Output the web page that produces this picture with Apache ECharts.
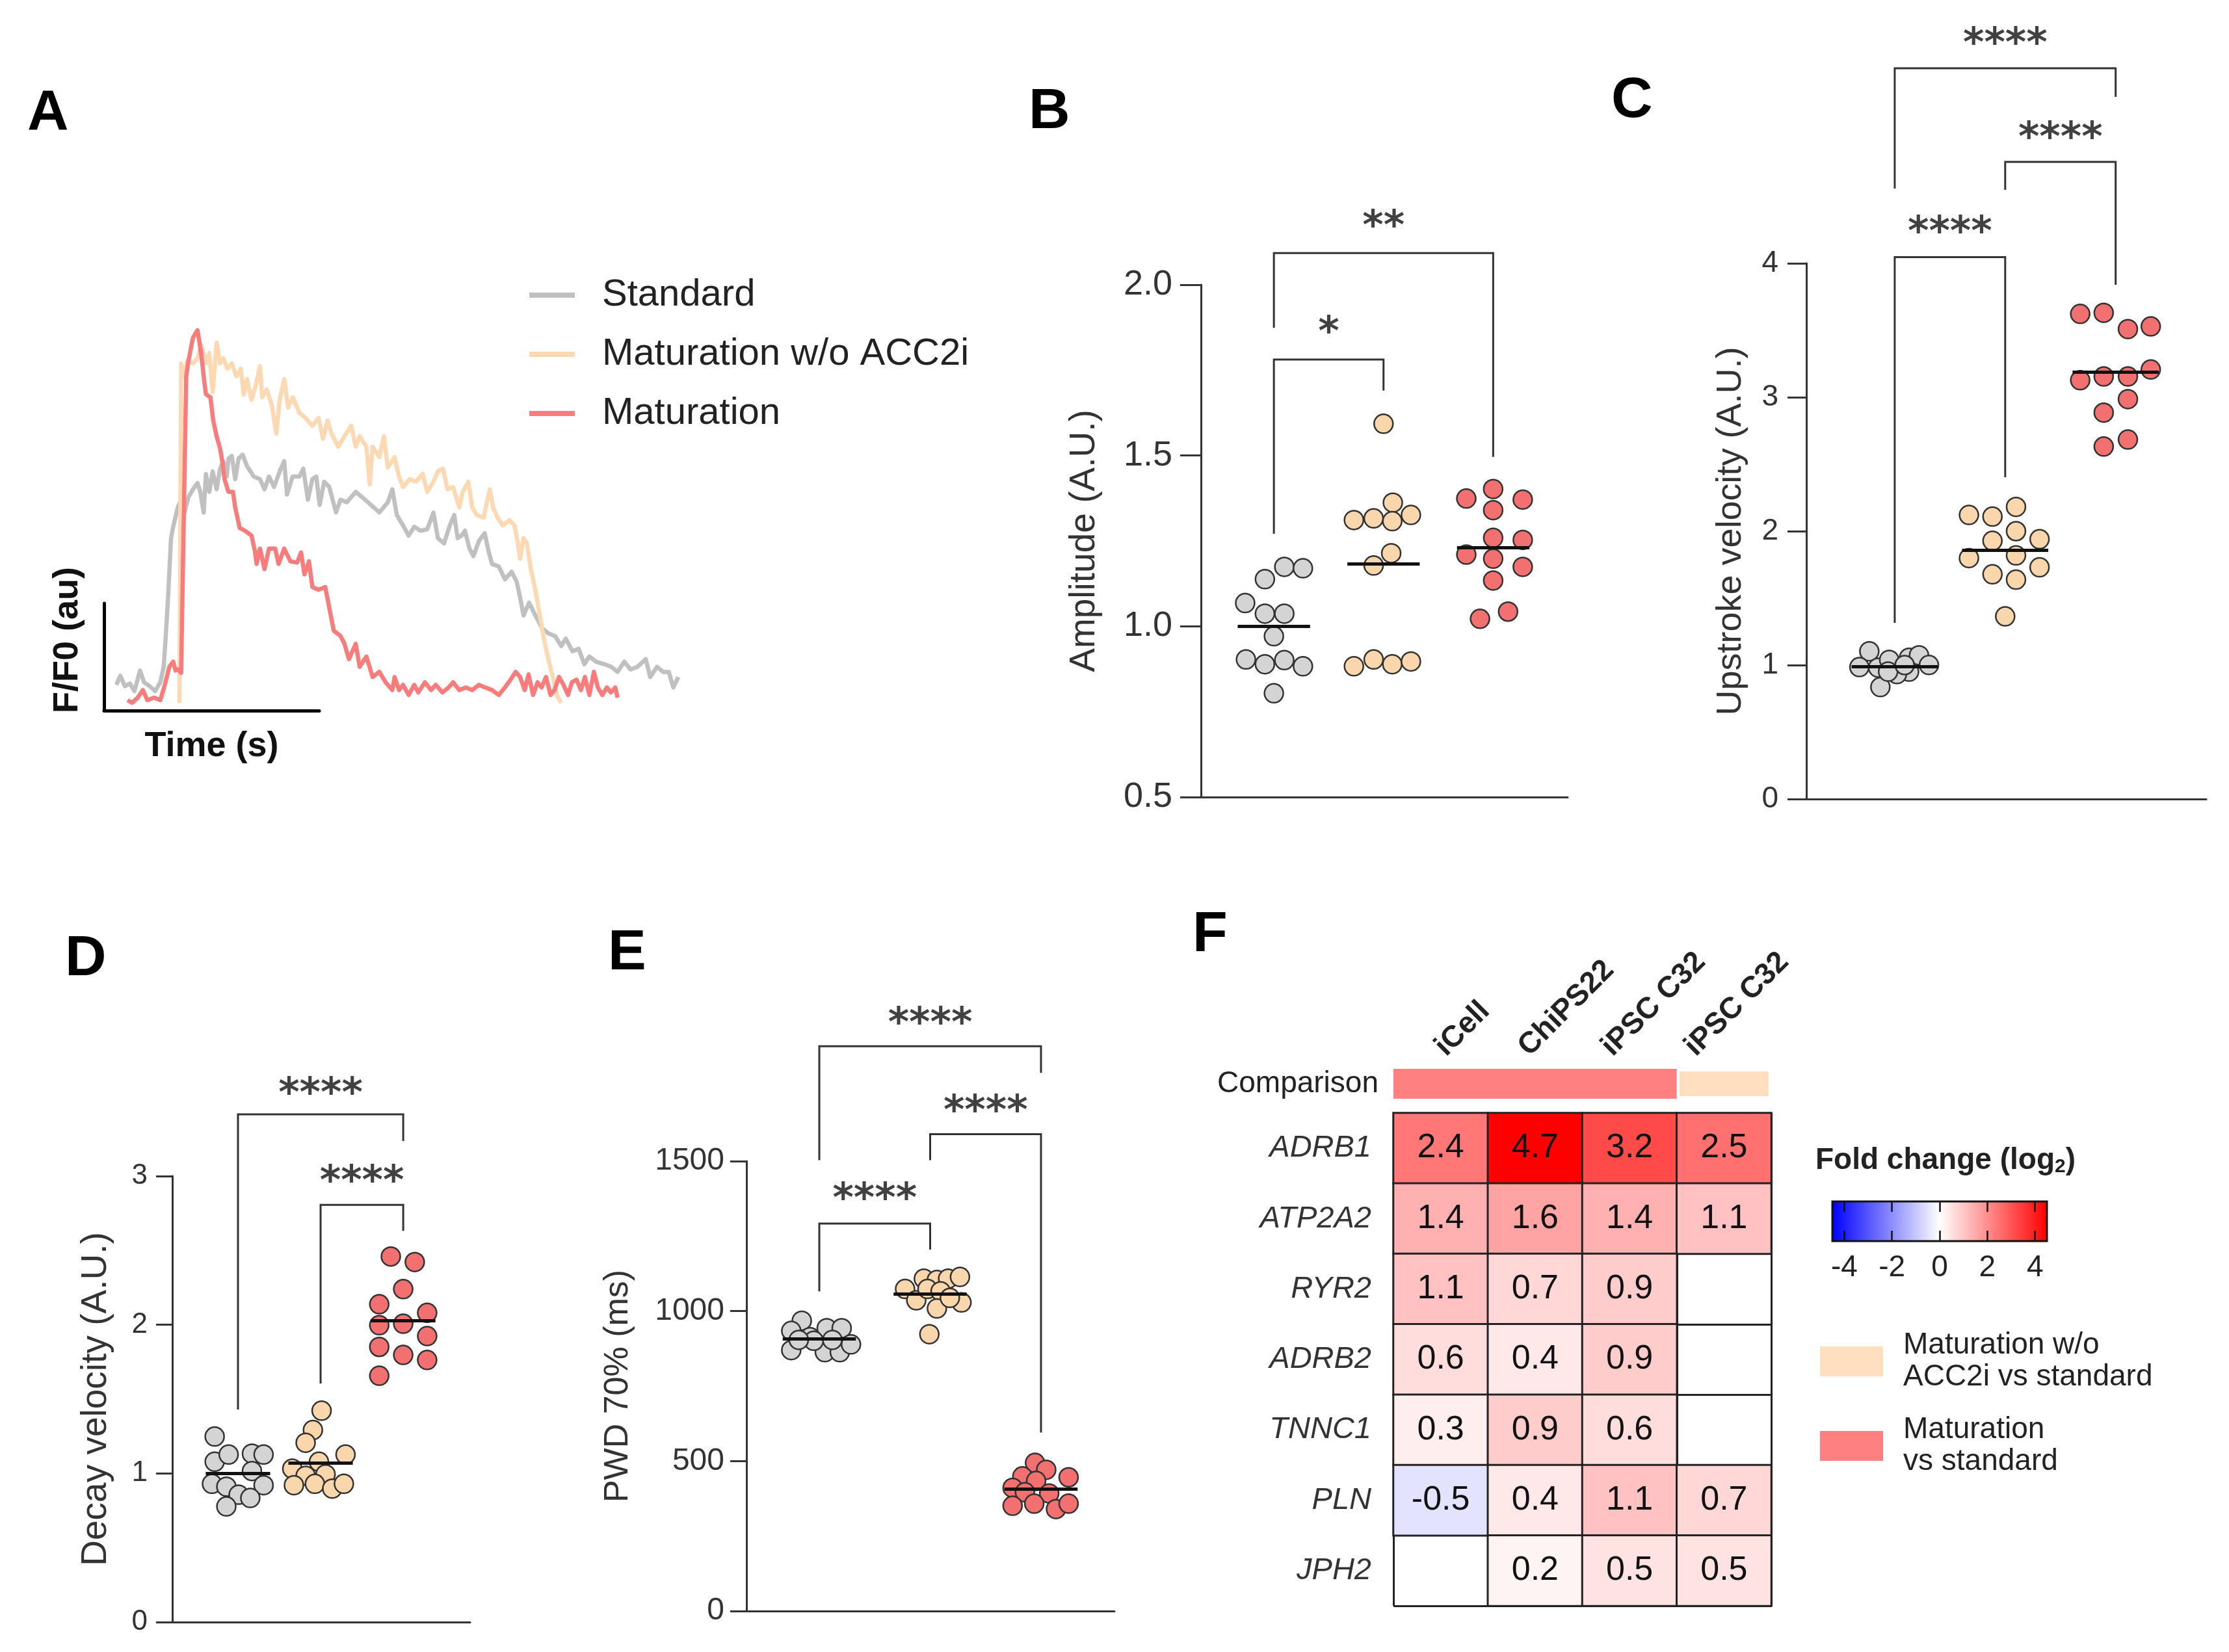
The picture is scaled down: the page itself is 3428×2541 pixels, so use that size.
<!DOCTYPE html>
<html><head><meta charset="utf-8">
<script src="https://cdn.jsdelivr.net/npm/echarts@6/dist/echarts.min.js"></script>
<style>html,body{margin:0;padding:0;background:#fff}#c{width:3428px;height:2541px}</style>
</head><body><div id="c"></div>
<script>
// ================= DATA =================
// Panel A: calcium transients (time in ms, F/F0)
const traceNames = ['Standard', 'Maturation w/o ACC2i', 'Maturation'];
const stdT = [0,7,15,24,32,42,49,59,69,78,84,88,92,97,101,109,113,119,122,128,136,144,149,155,159,165,171,178,184,190,196,199,205,211,217,224,232,244,255,263,271,280,290,298,303,313,325,332,340,348,355,361,369,378,390,398,409,425,436,452,467,482,490,498,509,519,529,540,552,563,571,582,592,600,606,613,619,627,634,644,654,661,667,679,690,702,711,717,723,733,744,756,767,779,790,798,810,821,831,840,852,867,879,890,902,913,925,940,948,960,971,981,989,998];
const stdV = [1.054,1.089,1.049,1.059,1.030,1.109,1.064,1.049,1.030,1.064,1.123,1.252,1.40,1.618,1.663,1.736,1.756,1.697,1.726,1.776,1.806,1.83,1.796,1.717,1.865,1.796,1.875,1.806,1.885,1.914,1.855,1.924,1.934,1.845,1.924,1.939,1.895,1.855,1.845,1.806,1.855,1.815,1.875,1.914,1.786,1.855,1.855,1.885,1.766,1.845,1.855,1.746,1.835,1.815,1.717,1.766,1.756,1.796,1.776,1.746,1.717,1.756,1.806,1.707,1.667,1.628,1.662,1.647,1.652,1.716,1.618,1.598,1.667,1.707,1.618,1.628,1.647,1.578,1.549,1.608,1.637,1.568,1.519,1.509,1.46,1.489,1.45,1.39,1.321,1.37,1.321,1.272,1.252,1.242,1.203,1.232,1.183,1.193,1.133,1.163,1.143,1.133,1.123,1.104,1.143,1.113,1.123,1.153,1.084,1.123,1.104,1.104,1.044,1.084];
const noAccT = [112,115,120,126,136,144,151,159,165,171,178,184,190,197,205,213,221,226,232,240,248,255,259,267,276,284,290,298,305,313,325,336,348,359,367,375,382,394,405,417,425,432,444,450,455,467,475,482,494,502,509,521,532,544,552,563,571,580,588,598,609,615,625,632,640,652,663,669,677,686,698,707,713,717,723,729,736,744,752,759,767,775,782,790];
const noAccV = [0.985,2.29,2.24,2.30,2.29,2.31,2.36,2.29,2.33,2.18,2.37,2.29,2.31,2.27,2.29,2.24,2.27,2.17,2.23,2.15,2.21,2.28,2.16,2.19,2.13,2.02,2.15,2.23,2.12,2.16,2.10,2.08,2.05,2.08,2.00,2.07,2.02,1.97,2.01,2.05,1.97,2.01,1.97,1.825,1.97,1.93,2.01,1.89,1.93,1.855,1.815,1.845,1.835,1.865,1.796,1.835,1.875,1.885,1.806,1.815,1.736,1.796,1.835,1.736,1.707,1.697,1.806,1.736,1.697,1.667,1.687,1.667,1.598,1.539,1.618,1.598,1.499,1.42,1.321,1.232,1.153,1.084,1.015,0.985];
const matT = [20,28,38,47,55,67,78,86,94,101,105,109,115,124,128,136,144,147,151,155,159,167,172,178,184,188,192,199,207,211,219,228,240,246,249,255,263,271,282,288,298,309,321,328,334,342,348,359,371,378,386,398,405,413,425,432,444,455,467,478,490,494,502,509,519,529,536,548,559,567,579,590,598,609,621,632,644,655,667,679,690,700,709,717,725,732,740,748,755,763,771,778,786,794,802,809,817,825,832,840,848,855,863,871,878,886,890];
const matV = [0.995,0.985,1.005,1.034,0.995,1.005,0.995,1.054,1.123,1.143,1.109,1.113,1.10,2.24,2.30,2.389,2.418,2.379,2.32,2.24,2.171,2.16,2.07,2.01,1.964,1.914,1.845,1.796,1.796,1.736,1.657,1.647,1.628,1.568,1.519,1.578,1.499,1.578,1.578,1.519,1.578,1.529,1.524,1.563,1.479,1.529,1.43,1.42,1.43,1.351,1.262,1.242,1.212,1.153,1.212,1.123,1.163,1.084,1.104,1.064,1.034,1.084,1.034,1.054,1.015,1.054,1.025,1.064,1.034,1.054,1.025,1.044,1.064,1.034,1.044,1.034,1.054,1.044,1.034,1.015,1.044,1.074,1.104,1.084,1.034,1.094,1.015,1.064,1.044,1.084,1.015,1.034,1.084,1.054,1.015,1.064,1.074,1.034,1.084,1.015,1.104,1.044,1.015,1.044,1.025,1.044,1.005];

// Panel B: Amplitude (A.U.)
const ampStd = [1.174,1.170,1.138,1.068,1.037,1.037,0.971,0.903,0.889,0.901,0.883,0.804];
const ampStdJit = [0.095,0.265,-0.082,-0.262,-0.082,0.095,0,-0.255,-0.082,0.095,0.265,0];
const ampNoAcc = [1.593,1.362,1.311,1.316,1.308,1.326,1.214,1.178,0.883,0.903,0.889,0.897];
const ampNoAccJit = [0,0.085,-0.27,-0.09,0.08,0.25,0.07,-0.09,-0.27,-0.09,0.08,0.25];
const ampMat = [1.374,1.402,1.371,1.340,1.259,1.210,1.253,1.198,1.174,1.134,1.022,1.043];
const ampMatJit = [-0.245,0,0.27,0,0,-0.245,0.27,0,0.27,0,-0.12,0.136];
const ampMedians = [1.0, 1.183, 1.231];
const ampAxis = [0.5, 2.0, 0.5];
const ampBrackets = [[[0,1.271],[0,1.781],[1,1.781],[1,1.690]], [[0,1.874],[0,2.093],[2,2.093],[2,1.496]]];
const ampStars = [[0.5,1.878,'*'], [1.0,2.188,'**']];

// Panel C: Upstroke velocity (A.U.)
const upStd = [1.103,0.985,0.981,1.039,1.055,1.073,1.001,0.951,0.933,0.836,0.951,1.0];
const upStdJit = [-0.23,-0.32,-0.15,-0.05,0.13,0.22,0.31,0.13,0.02,-0.13,-0.06,0.09];
const upNoAcc = [2.121,2.109,2.181,2.0,1.928,1.940,1.799,1.819,1.678,1.638,1.730,1.364];
const upNoAccJit = [-0.328,-0.115,0.098,0.098,-0.115,0.311,-0.328,0.098,-0.115,0.098,0.311,0];
const upMat = [3.622,3.630,3.509,3.529,3.127,3.155,3.155,3.207,2.986,2.885,2.632,2.684];
const upMatJit = [-0.321,-0.108,0.111,0.318,-0.321,-0.108,0.111,0.318,0.111,-0.108,-0.108,0.111];
const upMedians = [0.99, 1.859, 3.187];
const upAxis = [0, 4, 1];
const upBrackets = [[[0,1.316],[0,4.046],[1,4.046],[1,2.403]], [[1,4.549],[1,4.757],[2,4.757],[2,3.840]], [[0,4.558],[0,5.456],[2,5.456],[2,5.243]]];
const upStars = [[0.5,4.277,'****'], [1.5,4.98,'****'], [1.0,5.684,'****']];

// Panel D: Decay velocity (A.U.)
const decStd = [1.248,1.079,1.127,1.133,1.127,1.016,0.930,0.911,0.857,0.921,0.835,0.778];
const decStdJit = [-0.282,-0.282,-0.113,0.169,0.31,0.169,-0.315,-0.141,0.008,0.31,0.149,-0.141];
const decNoAcc = [1.422,1.292,1.206,1.127,1.032,1.079,0.984,0.994,0.921,0.930,0.898,0.930];
const decNoAccJit = [0.012,-0.093,-0.181,0.302,-0.343,-0.02,-0.181,0.06,-0.323,-0.069,0.141,0.282];
const decMat = [2.459,2.422,2.240,2.138,2.080,1.997,2.007,1.924,1.851,1.797,1.763,1.657];
const decMatJit = [-0.15,0.14,0,-0.29,0.29,-0.29,0,0.29,-0.29,0,0.29,-0.29];
const decMedians = [1.0, 1.07, 2.026];
const decAxis = [0, 3, 1];
const decBrackets = [[[0,1.43],[0,3.415],[2,3.415],[2,3.236]], [[1,1.605],[1,2.807],[2,2.807],[2,2.632]]];
const decStars = [[1.0,3.594,'****'], [1.5,3.004,'****']];

// Panel E: PWD 70% (ms)
const pwdStd = [968,934,913,943,943,870,863,863,889,901,904,904];
const pwdStdJit = [-0.158,-0.253,-0.084,0.067,0.202,-0.253,0.05,0.185,0.286,-0.05,-0.185,0.118];
const pwdNoAcc = [1108,1104,1108,1114,1074,1036,1074,1066,1029,1009,1044,923];
const pwdNoAccJit = [-0.057,0.061,0.162,0.269,-0.226,-0.125,-0.024,0.094,0.283,0.061,0.178,-0.007];
const pwdMat = [494,471,449,446,434,411,396,392,351,358,340,358];
const pwdMatJit = [-0.054,0.047,-0.168,0.249,-0.044,-0.256,-0.145,0.074,-0.256,-0.061,0.135,0.249];
const pwdMedians = [908, 1057, 407];
const pwdAxis = [0, 1500, 500];
const pwdBrackets = [[[0,1066],[0,1292],[1,1292],[1,1205]], [[1,1503],[1,1590],[2,1590],[2,595]], [[0,1503],[0,1883],[2,1883],[2,1794]]];
const pwdStars = [[0.5,1393,'****'], [1.5,1687,'****'], [1.0,1980,'****']];

// Panel F: fold change (log2) heatmap
const colLabels = ['iCell', 'ChiPS22', 'iPSC C32', 'iPSC C32'];
const rowLabels = ['ADRB1', 'ATP2A2', 'RYR2', 'ADRB2', 'TNNC1', 'PLN', 'JPH2'];
const colComparison = [0, 0, 0, 1]; // 0 = Maturation vs standard, 1 = Maturation w/o ACC2i vs standard
const compNames = ['Maturation\nvs standard', 'Maturation w/o\nACC2i vs standard'];
const fcADRB1 = [2.4, 4.7, 3.2, 2.5];
const fcATP2A2 = [1.4, 1.6, 1.4, 1.1];
const fcRYR2 = [1.1, 0.7, 0.9, null];
const fcADRB2 = [0.6, 0.4, 0.9, null];
const fcTNNC1 = [0.3, 0.9, 0.6, null];
const fcPLN = [-0.5, 0.4, 1.1, 0.7];
const fcJPH2 = [null, 0.2, 0.5, 0.5];
const cbRange = [-4.5, 4.5];
const cbTicks = [-4, -2, 0, 2, 4];

// ================= STYLE / BUILD =================
const FONT = 'Liberation Sans, Arial, Helvetica, sans-serif';
const groupColors = ['#d4d4d4', '#fad6ad', '#f27070'];
const traceColors = ['#c0c0c0', '#fcd9b3', '#f97c7c'];
const compColors = ['#ff8080', '#ffdfc0'];

const grids = [
  {left:179, top:475, width:866, height:620},   // 0 A traces
  {left:160, top:928, width:331, height:165},   // 1 A scale bars
  {left:1847, top:438, width:564, height:788},  // 2 B
  {left:2778, top:405, width:615, height:824},  // 3 C
  {left:265, top:1809, width:458, height:686},  // 4 D
  {left:1148, top:1786, width:566, height:692}, // 5 E
  {left:2143, top:1644, width:581, height:46},  // 6 F comparison
  {left:2143, top:1712, width:581, height:758}, // 7 F heatmap
  {left:2818, top:1848, width:330, height:61, show:true, borderColor:'#111', borderWidth:3, backgroundColor:'transparent', z:6}, // 8 colorbar
  {left:2151, top:1712, width:512, height:758}  // 9 F column-label band (labels sit on a tighter pitch than the cells)
];
const xAxes = [], yAxes = [], series = [];

// --- A
xAxes.push({gridIndex:0, type:'value', min:0, max:1000, show:false});
yAxes.push({gridIndex:0, type:'value', min:0.95, max:2.5, show:false});
xAxes.push({gridIndex:1, type:'value', min:0, max:1, axisLine:{show:true, onZero:false, lineStyle:{color:'#000', width:5}},
  axisTick:{show:false}, axisLabel:{show:false}, splitLine:{show:false},
  name:'Time (s)', nameLocation:'middle', nameGap:28, nameTextStyle:{fontSize:54, fontWeight:'bold', color:'#111', fontFamily:FONT}});
yAxes.push({gridIndex:1, type:'value', min:0, max:1, axisLine:{show:true, onZero:false, lineStyle:{color:'#000', width:5}},
  axisTick:{show:false}, axisLabel:{show:false}, splitLine:{show:false},
  name:'F/F0 (au)', nameLocation:'middle', nameGap:29,
  nameTextStyle:{fontSize:54, fontWeight:'bold', color:'#111', fontFamily:FONT, padding:[0,0,0,52]}});
[[stdT, stdV], [noAccT, noAccV], [matT, matV]].forEach((tr, k) => {
  series.push({type:'line', name:traceNames[k], xAxisIndex:0, yAxisIndex:0, silent:true, symbol:'none', showSymbol:false,
    data: tr[0].map((t, i) => [t, tr[1][i]]), lineStyle:{width:6.5, color:traceColors[k], join:'round'}, itemStyle:{color:traceColors[k]}, z:2+k});
});

// --- dot panels
function dotPanel(gi, cfg) {
  const axStyle = {color:'#333', width:3};
  xAxes.push({gridIndex:gi, type:'value', min:cfg.xr[0], max:cfg.xr[1], axisLine:{show:true, onZero:false, lineStyle:axStyle},
    axisTick:{show:false}, axisLabel:{show:false}, splitLine:{show:false}});
  yAxes.push({gridIndex:gi, type:'value', min:cfg.axis[0], max:cfg.axis[1], interval:cfg.axis[2],
    axisLine:{show:true, onZero:false, lineStyle:axStyle}, axisTick:{show:true, length:cfg.tick, lineStyle:axStyle},
    axisLabel:{fontSize:cfg.lf, color:'#333', margin:cfg.lm, fontFamily:FONT, formatter:cfg.fmt},
    splitLine:{show:false}, name:cfg.name, nameLocation:'middle', nameGap:cfg.ng,
    nameTextStyle:{fontSize:cfg.nf, color:'#333', fontFamily:FONT}});
  cfg.groups.forEach((vals, k) => {
    series.push({type:'scatter', xAxisIndex:gi, yAxisIndex:gi, silent:true, symbolSize:29, z:3,
      data: vals.map((v, i) => [k + cfg.jit[k][i], v]),
      itemStyle:{color:groupColors[k], borderColor:'#333', borderWidth:2.5, opacity:1}});
  });
  series.push({type:'lines', coordinateSystem:'cartesian2d', xAxisIndex:gi, yAxisIndex:gi, silent:true, z:4,
    data: cfg.med.map((m, k) => ({coords:[[k - cfg.mh, m], [k + cfg.mh, m]]})),
    lineStyle:{color:'#111', width:5, opacity:1, curveness:0}});
  series.push({type:'lines', coordinateSystem:'cartesian2d', xAxisIndex:gi, yAxisIndex:gi, silent:true, z:2, polyline:true, clip:false,
    data: cfg.br.map(c => ({coords:c})), lineStyle:{color:'#333', width:3, opacity:1, curveness:0}});
  series.push({type:'scatter', xAxisIndex:gi, yAxisIndex:gi, silent:true, clip:false, symbolSize:1, z:5,
    itemStyle:{color:'rgba(0,0,0,0)'},
    data: cfg.st.map(s => ({value:[s[0], s[1]], name:s[2]})),
    label:{show:true, position:'inside', formatter:'{b}', fontSize:62, fontWeight:'bold', fontFamily:'DejaVu Sans', color:'#111', offset:[0,12]}});
}
dotPanel(2, {xr:[-0.665, 2.68], axis:ampAxis, tick:32, lf:54, lm:44, fmt:v => v.toFixed(1), name:'Amplitude (A.U.)', ng:152, nf:55,
  groups:[ampStd, ampNoAcc, ampMat], jit:[ampStdJit, ampNoAccJit, ampMatJit], med:ampMedians, mh:0.33, br:ampBrackets, st:ampStars});
dotPanel(3, {xr:[-0.8, 2.82], axis:upAxis, tick:29, lf:46, lm:43, fmt:v => String(v), name:'Upstroke velocity (A.U.)', ng:89, nf:54,
  groups:[upStd, upNoAcc, upMat], jit:[upStdJit, upNoAccJit, upMatJit], med:upMedians, mh:0.39, br:upBrackets, st:upStars});
dotPanel(4, {xr:[-0.795, 2.81], axis:decAxis, tick:25, lf:44, lm:38, fmt:v => String(v), name:'Decay velocity (A.U.)', ng:90, nf:55,
  groups:[decStd, decNoAcc, decMat], jit:[decStdJit, decNoAccJit, decMatJit], med:decMedians, mh:0.39, br:decBrackets, st:decStars});
dotPanel(5, {xr:[-0.657, 2.663], axis:pwdAxis, tick:25, lf:48, lm:34, fmt:v => String(v), name:'PWD 70% (ms)', ng:171, nf:52,
  groups:[pwdStd, pwdNoAcc, pwdMat], jit:[pwdStdJit, pwdNoAccJit, pwdMatJit], med:pwdMedians, mh:0.33, br:pwdBrackets, st:pwdStars});

// --- F comparison bar
xAxes.push({gridIndex:6, type:'value', min:0, max:colLabels.length, show:false});
yAxes.push({gridIndex:6, type:'category', data:['Comparison'], axisLine:{show:false}, axisTick:{show:false},
  axisLabel:{margin:23, fontSize:46, color:'#222', fontFamily:FONT}});
compNames.forEach((nm, k) => {
  const n = colComparison.filter(c => c === k).length;
  series.push({type:'bar', name:nm, xAxisIndex:6, yAxisIndex:6, stack:'cmp', barWidth:'100%', silent:true, data:[n],
    itemStyle: k === 0 ? {color:compColors[k]} : {color:compColors[k], borderColor:'#fff', borderWidth:4}});
});

// --- F heatmap
xAxes.push({gridIndex:7, type:'category', position:'top', data:colLabels, axisLine:{show:false}, axisTick:{show:false},
  axisLabel:{show:false}, splitLine:{show:true, interval:0, lineStyle:{color:'#222', width:3}}});
yAxes.push({gridIndex:7, type:'category', inverse:true, data:rowLabels, axisLine:{show:false}, axisTick:{show:false},
  axisLabel:{fontStyle:'italic', fontSize:47, color:'#333', margin:34, fontFamily:FONT},
  splitLine:{show:true, interval:0, lineStyle:{color:'#222', width:3}}});
const fcRows = [fcADRB1, fcATP2A2, fcRYR2, fcADRB2, fcTNNC1, fcPLN, fcJPH2];
const heatData = [];
fcRows.forEach((row, r) => row.forEach((v, c) => { if (v !== null) heatData.push([c, r, v]); }));
const heatIdx = series.length;
series.push({type:'heatmap', xAxisIndex:7, yAxisIndex:7, data:heatData, silent:true,
  itemStyle:{borderColor:'#222', borderWidth:3},
  label:{show:true, formatter:p => p.value[2].toFixed(1), fontSize:52, color:'#111', fontFamily:FONT}});

// --- F colorbar
xAxes.push({gridIndex:8, type:'value', min:cbRange[0], max:cbRange[1], z:7, axisLine:{show:false},
  axisTick:{show:true, inside:true, length:61, customValues:cbTicks, lineStyle:{color:'#111', width:2.5, type:[16,29]}},
  axisLabel:{customValues:cbTicks, fontSize:46, color:'#222', margin:18, fontFamily:FONT}, splitLine:{show:false}});
yAxes.push({gridIndex:8, type:'value', min:0, max:1, show:false});
series.push({type:'custom', xAxisIndex:8, yAxisIndex:8, silent:true, z:1, clip:false,
  data:[[cbRange[0], 0, cbRange[1], 1]],
  renderItem: (params, api) => {
    const p0 = api.coord([api.value(0), api.value(1)]);
    const p1 = api.coord([api.value(2), api.value(3)]);
    return {type:'rect', shape:{x:p0[0], y:p1[1], width:p1[0]-p0[0], height:p0[1]-p1[1]},
      style:{fill:new echarts.graphic.LinearGradient(0,0,1,0,[{offset:0,color:'#0000ff'},{offset:0.5,color:'#ffffff'},{offset:1,color:'#ff0000'}])}};
  }});

// --- F column labels (same axis setup as the heatmap grid, tighter pitch)
xAxes.push({gridIndex:9, type:'category', position:'top', data:colLabels, axisLine:{show:false}, axisTick:{show:false},
  axisLabel:{rotate:-45, interval:0, margin:95, fontSize:46, fontWeight:'bold', color:'#222', fontFamily:FONT}, splitLine:{show:false}});
yAxes.push({gridIndex:9, type:'category', inverse:true, data:rowLabels, show:false});

// --- titles
const letterStyle = {fontSize:88, fontWeight:'bold', color:'#000', fontFamily:FONT};
const titles = [['A',42,131],['B',1582,129],['C',2478,112],['D',100,1432],['E',935,1423],['F',1834,1395]]
  .map(t => ({text:t[0], left:t[1], top:t[2], padding:0, textStyle:letterStyle}));
titles.push({text:'{b|Fold change (log}{s|2}{b|)}', left:2792, top:1760, padding:0,
  textStyle:{rich:{b:{fontSize:46, fontWeight:'bold', color:'#222', fontFamily:FONT},
                  s:{fontSize:30, fontWeight:'bold', color:'#222', fontFamily:FONT, padding:[20,0,0,0]}}}});

const option = {
  backgroundColor:'#fff', animation:false,
  textStyle:{fontFamily:FONT},
  title: titles,
  grid: grids, xAxis: xAxes, yAxis: yAxes,
  legend: [
    {data:traceNames, orient:'vertical', left:814, top:424, padding:0, itemWidth:70, itemHeight:8, itemGap:31, icon:'rect',
      selectedMode:false, textStyle:{fontSize:58, lineHeight:60, color:'#222', fontFamily:FONT, padding:[0,0,0,37]}},
    {data:[compNames[1], compNames[0]], orient:'vertical', left:2799, top:2045, padding:0, itemWidth:97, itemHeight:46, itemGap:32,
      icon:'rect', selectedMode:false, itemStyle:{borderWidth:0},
      textStyle:{fontSize:46, lineHeight:49, color:'#222', fontFamily:FONT, padding:[0,0,0,26]}}
  ],
  visualMap: [{type:'continuous', show:false, seriesIndex:heatIdx, dimension:2, min:cbRange[0], max:cbRange[1],
    inRange:{color:['#0000ff', '#ffffff', '#ff0000']}}],
  series: series
};
const chart = echarts.init(document.getElementById('c'), null, {renderer:'canvas', width:3428, height:2541});
chart.setOption(option);
</script></body></html>
